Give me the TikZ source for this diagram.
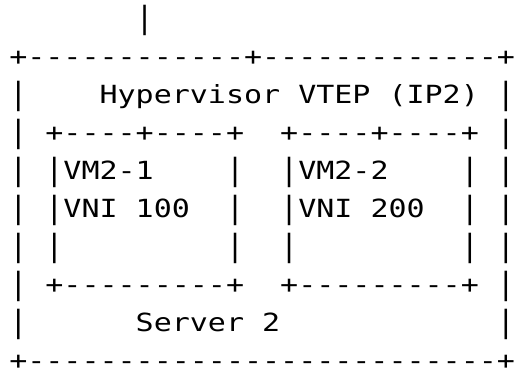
\documentclass[tikz,border=0pt]{standalone}
\usepackage{fontspec}
\usepackage{graphicx}
\newfontfamily\asciimono[FakeStretch=1.2,Ligatures=TeXOff]{DejaVu Sans Mono}
\newcommand\gap[1]{\hspace*{#1\fontcharwd\font`M}}
\newcommand\vb{\raisebox{-1.6pt}{\scalebox{1}[1.22]{|}}}
\tikzset{
  asciiline/.style={anchor=base west, inner sep=0pt, outer sep=0pt,
    font=\asciimono\fontsize{25pt}{30pt}\selectfont, text=black}
}
\begin{document}
\begin{tikzpicture}[x=1pt,y=-1pt]
\useasboundingbox[fill=white] (0,0) rectangle (517,368);
\def\lx{9.3}
\node[asciiline] (l1) at (\lx,26.95) {\gap{7}\vb};
\node[asciiline] (l2) at (\lx,65.0) {+------------+-------------+};
\node[asciiline] (l3) at (\lx,103.05) {\vb\gap{4}Hypervisor\gap{1}VTEP\gap{1}(IP2)\gap{1}\vb};
\node[asciiline] (l4) at (\lx,141.1) {\vb\gap{1}+----+----+\gap{2}+----+----+\gap{1}\vb};
\node[asciiline] (l5) at (\lx,179.15) {\vb\gap{1}\vb VM2-1\gap{4}\vb\gap{2}\vb VM2-2\gap{4}\vb\gap{1}\vb};
\node[asciiline] (l6) at (\lx,217.2) {\vb\gap{1}\vb VNI\gap{1}100\gap{2}\vb\gap{2}\vb VNI\gap{1}200\gap{2}\vb\gap{1}\vb};
\node[asciiline] (l7) at (\lx,255.25) {\vb\gap{1}\vb\gap{9}\vb\gap{2}\vb\gap{9}\vb\gap{1}\vb};
\node[asciiline] (l8) at (\lx,293.3) {\vb\gap{1}+---------+\gap{2}+---------+\gap{1}\vb};
\node[asciiline] (l9) at (\lx,331.35) {\vb\gap{6}Server\gap{1}2\gap{12}\vb};
\node[asciiline] (l10) at (\lx,369.4) {+--------------------------+};
\end{tikzpicture}
\end{document}
